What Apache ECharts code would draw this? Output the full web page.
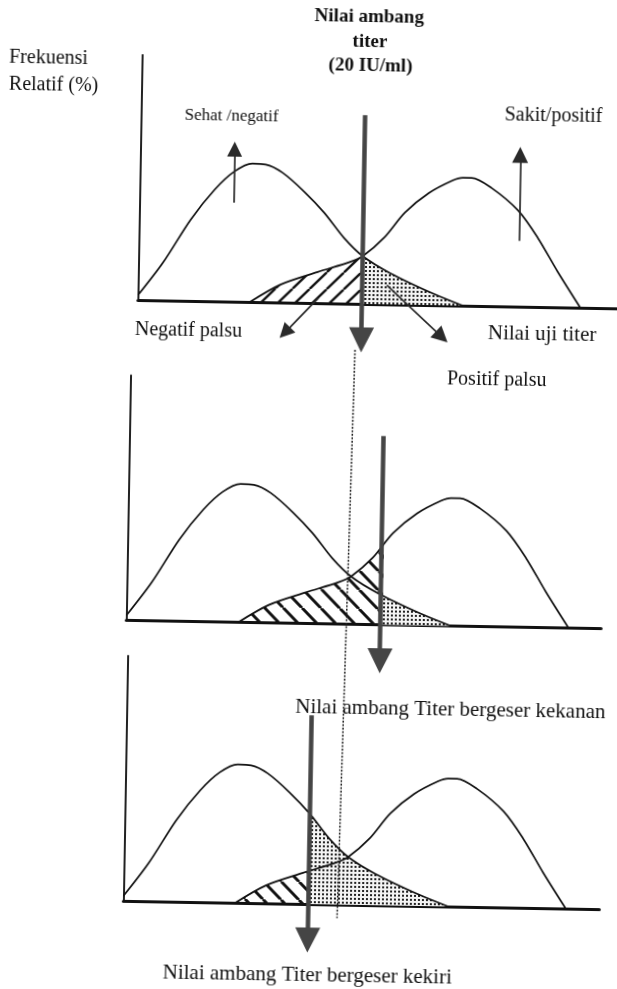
<!DOCTYPE html>
<html>
<head>
<meta charset="utf-8">
<script src="https://cdn.jsdelivr.net/npm/echarts@6/dist/echarts.min.js"></script>
<style>
html,body{margin:0;padding:0;background:#fff;overflow:hidden;width:617px;height:989px;}
#chart{position:absolute;left:0;top:0;width:617px;height:989px;transform:rotate(1deg);transform-origin:308.5px 494.5px;}
</style>
</head>
<body>
<div id="chart"></div>
<script>
// ---- Data (x: nilai uji titer, IU/ml ; y: frekuensi relatif, %) ----
const sehatX = [0, 2.2, 4.6, 6.7, 8.4, 10, 11.2, 12.7, 14.7, 16.5, 18.3, 20, 22.5, 26.3, 29];
const sehatY = [2, 15.6, 33.3, 45.7, 53.1, 56.5, 56.2, 53, 45.3, 36.9, 26.8, 19.5, 12.7, 4.8, 0];
const sakitX = [10, 12.7, 16, 18.9, 20, 21.9, 23.7, 25.8, 27.9, 28.8, 29.6, 31.4, 33.8, 35.6, 37.4, 39.5];
const sakitY = [0, 7.3, 12.7, 17.1, 19.5, 27.3, 37.6, 45.7, 51, 52.2, 52.2, 48.2, 39.2, 28.2, 14.7, 0];
const thresholds = [20, 22.7, 16.5];          // nilai ambang titer per panel
const xMaxes = [43, 42.4, 42.5];

// ---- Layout ----
const PX_X = 11.2, PX_Y = 2.45, Y_MAX = 100, H = Y_MAX * PX_Y;
const panelLeft = [134.6, 128.5, 130.5];
const panelBottom = [303, 623.5, 904];
const hatchDir = ['/', '\\', '\\'];
const hatchPeriod = [17, 19, 18];
const hatchWidth = [2.4, 3, 3];

function hatchTile(period, width, dir) {
  const c = document.createElement('canvas');
  c.width = period; c.height = period;
  const ctx = c.getContext('2d');
  ctx.strokeStyle = '#111'; ctx.lineWidth = width;
  ctx.beginPath();
  for (let k = -1; k <= 1; k++) {
    if (dir === '/') { ctx.moveTo(k * period, period); ctx.lineTo(k * period + period, 0); }
    else { ctx.moveTo(k * period, 0); ctx.lineTo(k * period + period, period); }
  }
  ctx.stroke();
  return c;
}
function dotTile() {
  const c = document.createElement('canvas');
  c.width = 4; c.height = 4;
  const ctx = c.getContext('2d');
  ctx.fillStyle = '#f4f4f4';
  ctx.fillRect(0, 0, 4, 4);
  ctx.fillStyle = '#222';
  ctx.fillRect(1, 1, 2, 2);
  return c;
}

const sehatData = sehatX.map((x, i) => [x, sehatY[i]]);
const sakitData = sakitX.map((x, i) => [x, sakitY[i]]);

// arrows (annotation, in data units of each panel)
function panelArrows(i) {
  const t = thresholds[i];
  const list = [{ from: [t, 77], tip: [t, -19.8], head: 25, w: 4.5, color: '#454545' }];
  if (i === 0) {
    list.push({ from: [8.4, 40.4], tip: [8.4, 65.3], head: 15, w: 1.7, color: '#2a2a2a' });
    list.push({ from: [33.9, 26.8], tip: [33.9, 65.2], head: 16, w: 1.7, color: '#2a2a2a' });
    list.push({ from: [16.1, 2.1], tip: [12.7, -14.5], head: 15, w: 1.7, color: '#2a2a2a' });
    list.push({ from: [22.2, 7.8], tip: [27.7, -15.1], head: 16, w: 1.7, color: '#2a2a2a' });
  }
  return list;
}
function shaftEnd(from, tip, head) {
  const dx = (tip[0] - from[0]) * PX_X, dy = (tip[1] - from[1]) * PX_Y;
  const k = (head / 2) / Math.hypot(dx, dy);
  return [tip[0] - (tip[0] - from[0]) * k, tip[1] - (tip[1] - from[1]) * k];
}

const grid = [], xAxis = [], yAxis = [], series = [];
function hiddenAxes(g, min, max) {
  xAxis.push({ gridIndex: g, type: 'value', min: min, max: max, show: false });
  yAxis.push({ gridIndex: g, type: 'value', min: 0, max: Y_MAX, show: false });
}
for (let i = 0; i < 3; i++) {
  const L = panelLeft[i], B = panelBottom[i], xm = xMaxes[i], t = thresholds[i];
  const g = grid.length;
  grid.push({ left: L, top: B - H, width: xm * PX_X, height: H, outerBoundsMode: 'none' });
  xAxis.push({ gridIndex: g, type: 'value', min: 0, max: xm,
    axisLine: { show: true, onZero: true, lineStyle: { color: '#111', width: 3 } },
    axisTick: { show: false }, axisLabel: { show: false }, splitLine: { show: false } });
  yAxis.push({ gridIndex: g, type: 'value', min: 0, max: Y_MAX,
    axisLine: { show: true, lineStyle: { color: '#222', width: 2 } },
    axisTick: { show: false }, axisLabel: { show: false }, splitLine: { show: false } });
  // hatched region: sakit below threshold
  const gh = grid.length;
  grid.push({ left: L, top: B - H, width: t * PX_X, height: H, outerBoundsMode: 'none' });
  hiddenAxes(gh, 0, t);
  series.push({ type: 'line', xAxisIndex: gh, yAxisIndex: gh, data: sakitData, smooth: 0.3,
    symbol: 'none', clip: true, silent: true, z: 1,
    lineStyle: { opacity: 0 },
    areaStyle: { opacity: 1, color: { image: hatchTile(hatchPeriod[i], hatchWidth[i], hatchDir[i]), repeat: 'repeat' } } });
  // dotted region: sehat above threshold
  const gd = grid.length;
  grid.push({ left: L + t * PX_X, top: B - H, width: (xm - t) * PX_X, height: H, outerBoundsMode: 'none' });
  hiddenAxes(gd, t, xm);
  series.push({ type: 'line', xAxisIndex: gd, yAxisIndex: gd, data: sehatData, smooth: 0.3,
    symbol: 'none', clip: true, silent: true, z: 1,
    lineStyle: { opacity: 0 },
    areaStyle: { opacity: 1, color: { image: dotTile(), repeat: 'repeat' } } });
  // curves
  series.push({ type: 'line', xAxisIndex: g, yAxisIndex: g, data: sehatData, smooth: 0.3,
    symbol: 'none', silent: true, z: 5, lineStyle: { color: '#111', width: 1.7 } });
  series.push({ type: 'line', xAxisIndex: g, yAxisIndex: g, data: sakitData, smooth: 0.3,
    symbol: 'none', silent: true, z: 5, lineStyle: { color: '#111', width: 1.7 } });
  // arrows
  panelArrows(i).forEach(a => {
    series.push({ type: 'lines', coordinateSystem: 'cartesian2d', xAxisIndex: g, yAxisIndex: g,
      clip: false, silent: true, z: 6, symbol: ['none', 'triangle'], symbolSize: a.head,
      lineStyle: { color: a.color, width: a.w, opacity: 1, curveness: 0 },
      data: [{ coords: [a.from, shaftEnd(a.from, a.tip, a.head)] }] });
  });
}

const serif = '"Liberation Serif", "Times New Roman", serif';
function txt(text, x, y, size, align, weight) {
  return { type: 'text', x: x, y: y, z: 100, silent: true,
    style: { text: text, fontSize: size, fontFamily: serif, fontWeight: weight || 'normal',
      fill: '#111', textAlign: align || 'left', textVerticalAlign: 'middle' } };
}
const elements = [
  txt('Nilai ambang', 361, 16, 19, 'center', 'bold'),
  txt('titer', 362, 41, 19, 'center', 'bold'),
  txt('(20 IU/ml)', 363, 65, 19, 'center', 'bold'),
  txt('Frekuensi', 1.5, 63, 20, 'left'),
  txt('Relatif (%)', 1.8, 89.5, 20, 'left'),
  txt('Sehat /negatif', 178, 118, 17, 'left'),
  txt('Sakit/positif', 498, 112, 20, 'left'),
  txt('Negatif palsu', 132, 333, 20, 'left'),
  txt('Nilai uji titer', 485, 330, 21, 'left'),
  txt('Positif palsu', 445, 376.5, 20, 'left'),
  txt('Nilai ambang Titer bergeser kekanan', 299, 707, 21, 'left'),
  txt('Nilai ambang Titer bergeser kekiri', 171, 975.5, 21, 'left'),
  { type: 'line', z: 90, silent: true,
    shape: { x1: 352.5, y1: 349, x2: 344.4, y2: 917.5 },
    style: { stroke: '#222', lineWidth: 1.5, lineDash: [2, 1.5] } }
];

const chart = echarts.init(document.getElementById('chart'), null, { renderer: 'canvas' });
chart.setOption({ animation: false, backgroundColor: '#fff', grid, xAxis, yAxis, series, graphic: { elements } });
</script>
</body>
</html>
